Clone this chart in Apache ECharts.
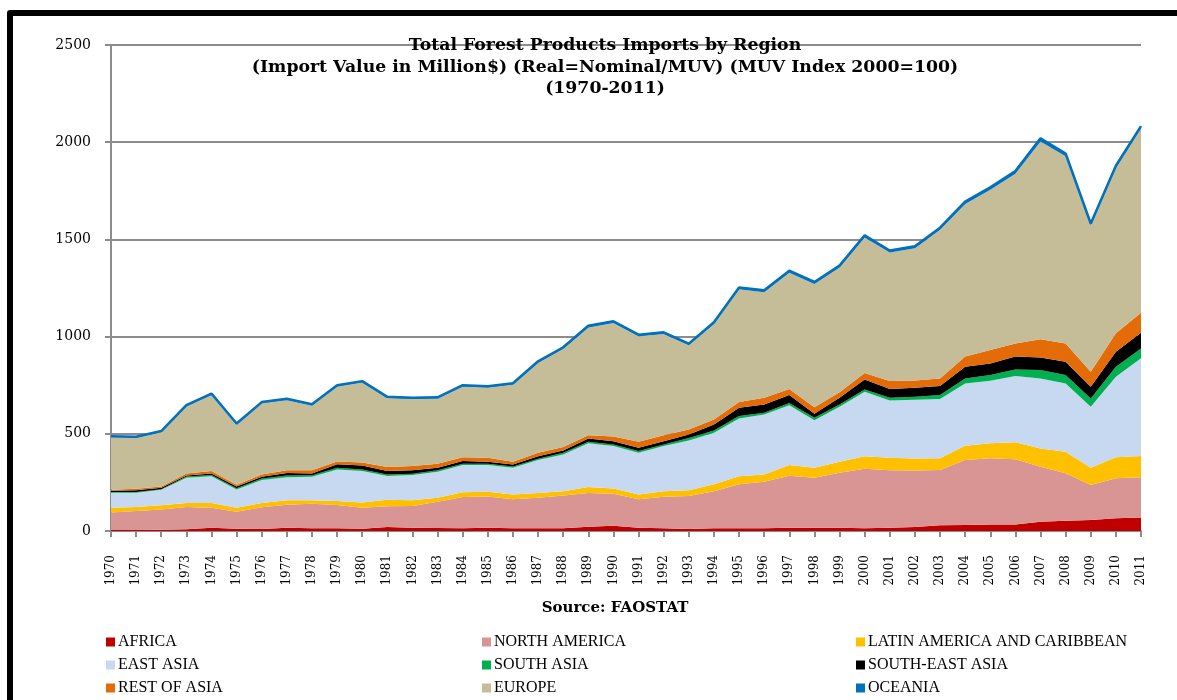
<!DOCTYPE html>
<html>
<head>
<meta charset="utf-8">
<script src="https://cdn.jsdelivr.net/npm/echarts@6/dist/echarts.min.js"></script>
<style>
  html, body { margin: 0; padding: 0; background: #fff; }
  #chart { width: 1177px; height: 700px; }
</style>
</head>
<body>
<div id="chart"></div>
<script>
const years = [];
for (let y = 1970; y <= 2011; y++) years.push(String(y));

// values (million $)
const africa = [5,5,6,9,17,12,10,17,14,14, 12,20,17,15,14,17,14,14,14,22, 27,17,14,10,14,14,14,17,17,17, 14,17,20,29,31,33,34,48,53,57, 65,69];
const northAmerica = [90,98,105,114,103,87,112,118,126,120, 108,107,111,136,161,161,149,157,168,173, 165,146,162,170,191,226,239,267,257,283, 306,295,291,285,334,341,335,283,244,180, 206,207];
const latinAmerica = [25,20,21,21,24,21,22,23,18,20, 27,34,30,20,24,24,25,24,23,31, 27,25,29,29,35,41,38,55,51,56, 64,65,62,60,74,77,87,94,111,89, 108,110];
const eastAsia = [77,74,80,130,137,94,118,119,121,163, 161,122,130,134,140,137,137,170,189,226, 218,214,232,257,265,298,308,308,245,283, 332,294,302,305,320,322,341,360,351,313, 415,502];
const southAsia = [3,3,3,6,7,6,8,9,8,8, 9,8,7,7,7,7,7,7,8,7, 8,9,8,13,12,12,9,11,12,12, 12,14,15,20,26,29,34,43,43,43, 51,51];
const southEastAsia = [7,10,7,6,8,9,9,12,9,18, 20,17,17,13,14,10,10,13,12,17, 17,17,17,18,31,43,43,41,21,34, 51,46,47,47,60,60,66,65,69,60, 77,81];
const restOfAsia = [5,7,7,10,12,9,12,14,16,14, 16,21,22,21,20,21,14,17,18,17, 24,31,31,25,26,29,34,32,34,29, 34,40,37,39,52,69,68,93,94,77, 95,103];
const europe = [271,263,280,345,392,310,366,362,334,386, 411,355,345,336,363,361,397,463,505,554, 584,543,521,434,491,580,543,597,634,641, 697,662,681,764,785,824,873,1018,963,753, 850,947];
const oceania = [5,5,5,6,7,5,6,6,6,7, 7,6,6,6,7,7,7,8,8,9, 9,8,8,8,9,10,10,11,10,10, 11,10,10,11,12,13,14,16,14,10, 12,13];

const regions = [
  ['AFRICA', africa, '#C00000'],
  ['NORTH AMERICA', northAmerica, '#D99594'],
  ['LATIN AMERICA AND CARIBBEAN', latinAmerica, '#FFC000'],
  ['EAST ASIA', eastAsia, '#C6D9F1'],
  ['SOUTH ASIA', southAsia, '#00B050'],
  ['SOUTH-EAST ASIA', southEastAsia, '#000000'],
  ['REST OF ASIA', restOfAsia, '#E36C09'],
  ['EUROPE', europe, '#C4BD97'],
  ['OCEANIA', oceania, '#0070C0']
];

const serif = '"Liberation Serif", serif';
const wideSerif = '"DejaVu Serif", serif';

const series = regions.map(([name, data, color]) => ({
  name: name,
  type: 'line',
  stack: 'total',
  data: data,
  symbol: 'none',
  itemStyle: { color: color },
  lineStyle: name === 'OCEANIA' ? { color: color, width: 2.5 } : { width: 0 },
  areaStyle: { color: color, opacity: 1 }
}));

// legend laid out row by row, 3 columns
const legendCols = [106, 482, 856];
const legendRows = [634, 657, 680];
const legends = regions.map(([name], i) => ({
  left: legendCols[i % 3],
  top: legendRows[Math.floor(i / 3)],
  padding: 0,
  icon: 'rect',
  itemWidth: 9,
  itemHeight: 9,
  data: [name],
  textStyle: { fontFamily: serif, fontSize: 16, color: '#000', padding: [0, 0, 0, -2] }
}));

const chart = echarts.init(document.getElementById('chart'));
chart.setOption({
  animation: false,
  backgroundColor: '#fff',
  title: {
    text: 'Total Forest Products Imports by Region\n(Import Value in Million$) (Real=Nominal/MUV) (MUV Index 2000=100)\n(1970-2011)',
    left: 600,
    top: 30,
    textAlign: 'center',
    textStyle: { fontFamily: wideSerif, fontWeight: 'bold', fontSize: 17.3, lineHeight: 21.5, color: '#000' }
  },
  legend: legends,
  grid: { left: 111, right: 36, top: 45, bottom: 169 },
  xAxis: {
    type: 'category',
    data: years,
    boundaryGap: false,
    axisLine: { lineStyle: { color: '#8c8c8c', width: 2 } },
    axisTick: { show: true, interval: 0, length: 6, lineStyle: { color: '#8c8c8c', width: 2 } },
    axisLabel: { rotate: 90, interval: 0, margin: 24, fontFamily: wideSerif, fontSize: 12, color: '#000' }
  },
  yAxis: {
    type: 'value',
    min: 0,
    max: 2500,
    interval: 500,
    axisLine: { show: true, lineStyle: { color: '#8c8c8c', width: 2 } },
    axisTick: { show: true, length: 6, lineStyle: { color: '#8c8c8c', width: 2 } },
    splitLine: { lineStyle: { color: '#8c8c8c', width: 2 } },
    axisLabel: { margin: 20, fontFamily: wideSerif, fontSize: 14, color: '#000', formatter: v => String(v) }
  },
  graphic: [
    {
      type: 'polyline',
      shape: { points: [[10, 720], [10, 13], [1200, 13]] },
      style: { fill: 'none', stroke: '#000', lineWidth: 6, lineJoin: 'round' },
      silent: true
    },
    {
      type: 'text',
      x: 615,
      y: 608,
      style: { text: 'Source: FAOSTAT', fontFamily: wideSerif, fontWeight: 'bold', fontSize: 15, fill: '#000', align: 'center', verticalAlign: 'middle' }
    }
  ],
  series: series
});
</script>
</body>
</html>
